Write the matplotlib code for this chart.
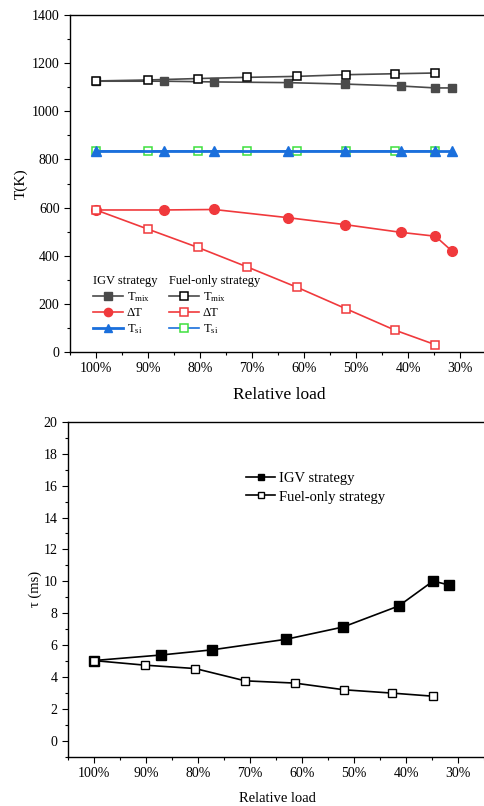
import matplotlib
matplotlib.use('Agg')
import matplotlib.pyplot as plt
from matplotlib.ticker import MultipleLocator, FuncFormatter

plt.rcParams['font.family'] = ['Liberation Serif', 'DejaVu Serif']
plt.rcParams['mathtext.fontset'] = 'custom'
plt.rcParams['mathtext.rm'] = 'Liberation Serif'
plt.rcParams['mathtext.it'] = 'Liberation Serif:italic'

# ---------------- data ----------------
# relative load (%) of operating points
load_igv = [100, 87.0, 77.3, 63.1, 52.1, 41.4, 34.8, 31.7]
load_fuel = [100, 90.1, 80.5, 70.9, 61.4, 51.9, 42.6, 34.9]

# top panel: temperatures (K)
tmix_igv = [1125, 1125, 1122, 1119, 1113, 1105, 1097, 1097]
tmix_fuel = [1126, 1130, 1136, 1141, 1145, 1152, 1156, 1159]
dT_igv = [590, 590, 592, 558, 529, 497, 481, 421]
dT_fuel = [590, 511, 435, 353, 269, 179, 91, 31]
tsi_igv = [833, 833, 833, 833, 833, 833, 833, 833]
tsi_fuel = [833, 833, 833, 833, 833, 833, 833, 833]

# bottom panel: residence time tau (ms)
tau_igv = [5.04, 5.39, 5.71, 6.37, 7.14, 8.46, 10.02, 9.77]
tau_fuel = [5.04, 4.75, 4.54, 3.77, 3.63, 3.21, 3.00, 2.81]

xticks = [100, 90, 80, 70, 60, 50, 40, 30]

GRAY = '#4a4a4a'
RED = '#f0393c'
BLUE = '#1a6fdc'
GREEN = '#3ee03e'

fig = plt.figure(figsize=(4.84, 8.06), dpi=100)

pct = FuncFormatter(lambda v, p: f'{v:.0f}%')


def style_axis(ax):
    ax.set_xlim(105, 24.5)
    ax.set_xticks(xticks)
    ax.xaxis.set_minor_locator(MultipleLocator(5))
    ax.xaxis.set_major_formatter(pct)
    ax.tick_params(which='both', direction='out', top=False, right=False)
    ax.tick_params(which='major', length=4, width=0.8, labelsize=10)
    ax.tick_params(which='minor', length=2.5, width=0.8)
    for s in ax.spines.values():
        s.set_linewidth(1.0)
    ax.spines['right'].set_visible(False)


# ---------------- top panel ----------------
ax1 = fig.add_axes([70 / 484, 1 - 352 / 806, 419 / 484, 337 / 806])
ms = 6
l1, = ax1.plot(load_igv, tmix_igv, '-s', color=GRAY, mfc=GRAY, mec=GRAY, ms=ms, lw=1.2)
l2, = ax1.plot(load_fuel, tmix_fuel, '-s', color=GRAY, mfc='white', mec='black', ms=ms, mew=1.1, lw=1.2)
l3, = ax1.plot(load_igv, dT_igv, '-o', color=RED, mfc=RED, mec=RED, ms=ms + 1, lw=1.2)
l4, = ax1.plot(load_fuel, dT_fuel, '-s', color=RED, mfc='white', mec=RED, ms=ms, mew=1.1, lw=1.2)
l6, = ax1.plot(load_fuel, tsi_fuel, '-s', color=BLUE, mfc='white', mec=GREEN, ms=ms, mew=1.1, lw=1.2)
l5, = ax1.plot(load_igv, tsi_igv, '-^', color=BLUE, mfc=BLUE, mec=BLUE, ms=ms + 1, lw=2.0)
ax1.set_ylim(0, 1400)
ax1.yaxis.set_major_locator(MultipleLocator(200))
ax1.yaxis.set_minor_locator(MultipleLocator(100))
style_axis(ax1)
ax1.set_ylabel('T(K)', fontsize=11, labelpad=3)
ax1.set_xlabel('Relative load', fontsize=12.5, labelpad=8)

leg_kw = dict(loc='upper left', frameon=False, fontsize=9, title_fontsize=9,
              alignment='left', handlelength=2.4, handletextpad=0.3,
              borderpad=0, labelspacing=0.25, borderaxespad=0, markerscale=0.85)
lab = ['T$_{\\rm mix}$', 'ΔT', 'T$_{\\rm si}$']
leg1 = ax1.legend([l1, l3, l5], lab, title='IGV strategy',
                  bbox_to_anchor=(0.055, 0.228), **leg_kw)
ax1.add_artist(leg1)
ax1.legend([l2, l4, l6], lab, title='Fuel-only strategy',
           bbox_to_anchor=(0.236, 0.228), **leg_kw)

# ---------------- bottom panel ----------------
ax2 = fig.add_axes([67.7 / 484, 1 - 757 / 806, 419 / 484, 335.3 / 806])
ax2.plot(load_igv, tau_igv, '-s', color='black', mfc='black', ms=6.5, lw=1.2,
         label='IGV strategy')
ax2.plot(load_fuel, tau_fuel, '-s', color='black', mfc='white', mec='black', ms=6,
         mew=1.0, lw=1.2, label='Fuel-only strategy')
ax2.set_ylim(-1, 20)
ax2.yaxis.set_major_locator(MultipleLocator(2))
ax2.yaxis.set_minor_locator(MultipleLocator(1))
style_axis(ax2)
ax2.set_ylabel('τ (ms)', fontsize=10.5, labelpad=1)
ax2.set_xlabel('Relative load', fontsize=10.5, labelpad=8)
ax2.legend(loc='upper left', bbox_to_anchor=(0.426, 0.85), frameon=False,
           fontsize=10.5, handlelength=2.0, handletextpad=0.25, borderpad=0,
           borderaxespad=0, labelspacing=0.35, markerscale=0.7)

fig.savefig('out.png', dpi=100)
